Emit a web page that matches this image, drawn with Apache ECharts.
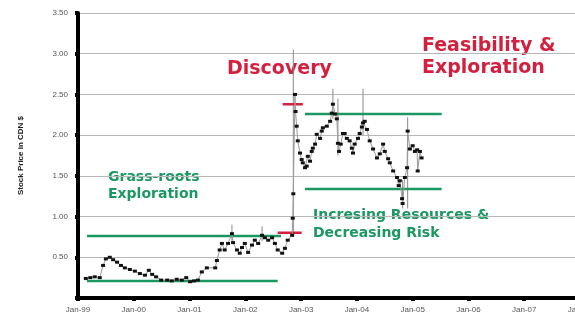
<!DOCTYPE html>
<html>
<head>
<meta charset="utf-8">
<script src="https://cdn.jsdelivr.net/npm/echarts@6/dist/echarts.min.js"></script>
<style>
  html, body { margin: 0; padding: 0; background: #fff; }
  #chart { width: 575px; height: 323px; }
</style>
</head>
<body>
<div id="chart"></div>
<script>
// Weekly closing prices (decimal year, CDN $)
const closeDates = [
  1999.14, 1999.22, 1999.30, 1999.39, 1999.45, 1999.50, 1999.57, 1999.63, 1999.70, 1999.77,
  1999.84, 1999.93, 2000.02, 2000.11, 2000.20, 2000.27, 2000.33, 2000.40, 2000.49, 2000.60,
  2000.68, 2000.77, 2000.86, 2000.94, 2001.01, 2001.08, 2001.15, 2001.22, 2001.31, 2001.46,
  2001.49, 2001.54, 2001.58, 2001.63, 2001.69, 2001.76, 2001.78, 2001.85, 2001.90, 2001.94,
  2001.99, 2002.05, 2002.12, 2002.17, 2002.23, 2002.30, 2002.35, 2002.41, 2002.48, 2002.53,
  2002.58, 2002.66, 2002.71, 2002.76, 2002.84, 2002.85, 2002.86, 2002.89, 2002.90, 2002.92,
  2002.94, 2002.98, 2003.01, 2003.03, 2003.07, 2003.10, 2003.12, 2003.16, 2003.19, 2003.21,
  2003.25, 2003.28, 2003.34, 2003.37, 2003.39, 2003.46, 2003.52, 2003.55, 2003.57, 2003.61,
  2003.64, 2003.66, 2003.68, 2003.71, 2003.75, 2003.78, 2003.82, 2003.87, 2003.91, 2003.93,
  2003.96, 2004.02, 2004.05, 2004.09, 2004.11, 2004.14, 2004.18, 2004.23, 2004.29, 2004.36,
  2004.41, 2004.47, 2004.50, 2004.56, 2004.59, 2004.65, 2004.72, 2004.75, 2004.77, 2004.81,
  2004.82, 2004.86, 2004.90, 2004.91, 2004.95, 2005.00, 2005.04, 2005.08, 2005.09, 2005.13,
  2005.16
];
const closePrices = [
  0.24, 0.25, 0.26, 0.25, 0.40, 0.48, 0.50, 0.47, 0.44, 0.40,
  0.37, 0.35, 0.33, 0.30, 0.28, 0.34, 0.29, 0.26, 0.22, 0.22,
  0.21, 0.23, 0.22, 0.25, 0.20, 0.21, 0.22, 0.32, 0.37, 0.37,
  0.46, 0.59, 0.67, 0.59, 0.67, 0.79, 0.68, 0.59, 0.55, 0.62,
  0.67, 0.56, 0.65, 0.71, 0.67, 0.77, 0.74, 0.71, 0.74, 0.67,
  0.59, 0.55, 0.61, 0.71, 0.77, 0.98, 1.28, 2.50, 2.29, 2.11,
  1.93, 1.78, 1.70, 1.66, 1.60, 1.62, 1.74, 1.68, 1.80, 1.84,
  1.89, 2.01, 1.96, 2.05, 2.09, 2.11, 2.17, 2.27, 2.38, 2.26,
  2.20, 1.90, 1.80, 1.89, 2.02, 2.02, 1.96, 1.93, 1.84, 1.78,
  1.89, 1.96, 2.02, 2.10, 2.15, 2.17, 2.07, 1.93, 1.83, 1.72,
  1.77, 1.89, 1.80, 1.71, 1.66, 1.56, 1.48, 1.38, 1.44, 1.22,
  1.16, 1.48, 1.60, 2.05, 1.83, 1.87, 1.80, 1.82, 1.56, 1.80,
  1.72
];

// Intraday ranges on the most volatile weeks: [date, low, high]
const rangeDates = [2001.76, 2002.30, 2002.86, 2003.57, 2003.66, 2004.11, 2004.91, 2004.82];
const rangeLows  = [0.70, 0.70, 0.75, 2.20, 1.75, 2.00, 1.10, 1.10];
const rangeHighs = [0.90, 0.88, 3.05, 2.57, 2.45, 2.57, 2.22, 1.45];

// Phase price levels: [from, to, price]
const greenLevels = [
  [1999.16, 2002.64, 0.76],
  [1999.16, 2002.58, 0.21],
  [2003.07, 2005.52, 2.26],
  [2003.07, 2005.52, 1.34]
];
const redLevels = [
  [2002.58, 2003.01, 0.80],
  [2002.67, 2003.03, 2.38]
];

// Axis ticks
const yearTicks = [1999, 2000, 2001, 2002, 2003, 2004, 2005, 2006, 2007, 2008];
const priceTicks = [0, 0.5, 1.0, 1.5, 2.0, 2.5, 3.0, 3.5];

const GREEN = '#1b9862';
const RED = '#d3203e';

const closeData = closeDates.map((d, i) => [d, closePrices[i]]);
const rangeData = rangeDates.map((d, i) => [d, rangeLows[i], rangeHighs[i]]);

function levelSeries(level, color) {
  return {
    type: 'line',
    data: [[level[0], level[2]], [level[1], level[2]]],
    symbol: 'none',
    silent: true,
    lineStyle: { color: color, width: 2.5 },
    z: 3
  };
}

const chart = echarts.init(document.getElementById('chart'), null, { renderer: 'canvas' });

chart.setOption({
  animation: false,
  backgroundColor: '#ffffff',
  grid: { left: 78, right: -5, top: 13, bottom: 25, outerBoundsMode: 'none', containLabel: false },
  xAxis: {
    type: 'value',
    min: yearTicks[0],
    max: yearTicks[yearTicks.length - 1],
    interval: 1,
    axisLine: { lineStyle: { color: '#000', width: 4 } },
    axisTick: { show: true, length: 3, lineStyle: { color: '#000', width: 4 } },
    axisLabel: {
      color: '#555',
      fontSize: 8,
      fontFamily: 'Liberation Sans, Arial, sans-serif',
      margin: 8,
      showMaxLabel: true,
      hideOverlap: false,
      formatter: v => 'Jan-' + String(Math.round(v)).slice(2)
    },
    splitLine: { show: false }
  },
  yAxis: {
    type: 'value',
    min: priceTicks[0],
    max: priceTicks[priceTicks.length - 1],
    interval: 0.5,
    name: 'Stock Price in CDN $',
    nameLocation: 'middle',
    nameGap: 53,
    nameRotate: 90,
    nameTextStyle: {
      color: '#222',
      fontSize: 8,
      fontWeight: 'bold',
      fontFamily: 'Liberation Sans, Arial, sans-serif'
    },
    axisLine: { show: true, lineStyle: { color: '#000', width: 4 } },
    axisTick: { show: true, length: 3, lineStyle: { color: '#000', width: 4 } },
    axisLabel: {
      color: '#555',
      fontSize: 8,
      fontFamily: 'Liberation Sans, Arial, sans-serif',
      margin: 10,
      formatter: v => (v === 0 ? '' : v.toFixed(2))
    },
    splitLine: { show: true, lineStyle: { color: '#b8b8b8', width: 1 } }
  },
  graphic: [
    {
      type: 'text', left: 227, top: 60,
      style: { text: 'Discovery', fill: RED, font: 'bold 19px "DejaVu Sans", Verdana, sans-serif' }
    },
    {
      type: 'text', left: 422, top: 35,
      style: { text: 'Feasibility &\nExploration', fill: RED, lineHeight: 22,
               font: 'bold 19px "DejaVu Sans", Verdana, sans-serif' }
    },
    {
      type: 'text', left: 108, top: 169,
      style: { text: 'Grass-roots\nExploration', fill: GREEN, lineHeight: 17,
               font: 'bold 14px "DejaVu Sans", Verdana, sans-serif' }
    },
    {
      type: 'text', left: 313, top: 206,
      style: { text: 'Incresing Resources &\nDecreasing Risk', fill: GREEN, lineHeight: 18,
               font: 'bold 14px "DejaVu Sans", Verdana, sans-serif' }
    }
  ],
  series: [
    {
      type: 'custom',
      data: rangeData,
      encode: { x: 0, y: [1, 2] },
      silent: true,
      z: 2,
      renderItem: (params, api) => {
        const x = api.value(0);
        const lo = api.coord([x, api.value(1)]);
        const hi = api.coord([x, api.value(2)]);
        return {
          type: 'line',
          shape: { x1: lo[0], y1: lo[1], x2: hi[0], y2: hi[1] },
          style: { stroke: '#8a8a8a', lineWidth: 1 }
        };
      }
    },
    {
      type: 'line',
      data: closeData,
      symbol: 'rect',
      symbolSize: [4, 3],
      itemStyle: { color: '#111' },
      lineStyle: { color: '#9a9a9a', width: 1 },
      z: 4
    },
    ...greenLevels.map(l => levelSeries(l, GREEN)),
    ...redLevels.map(l => levelSeries(l, RED))
  ]
});
</script>
</body>
</html>
